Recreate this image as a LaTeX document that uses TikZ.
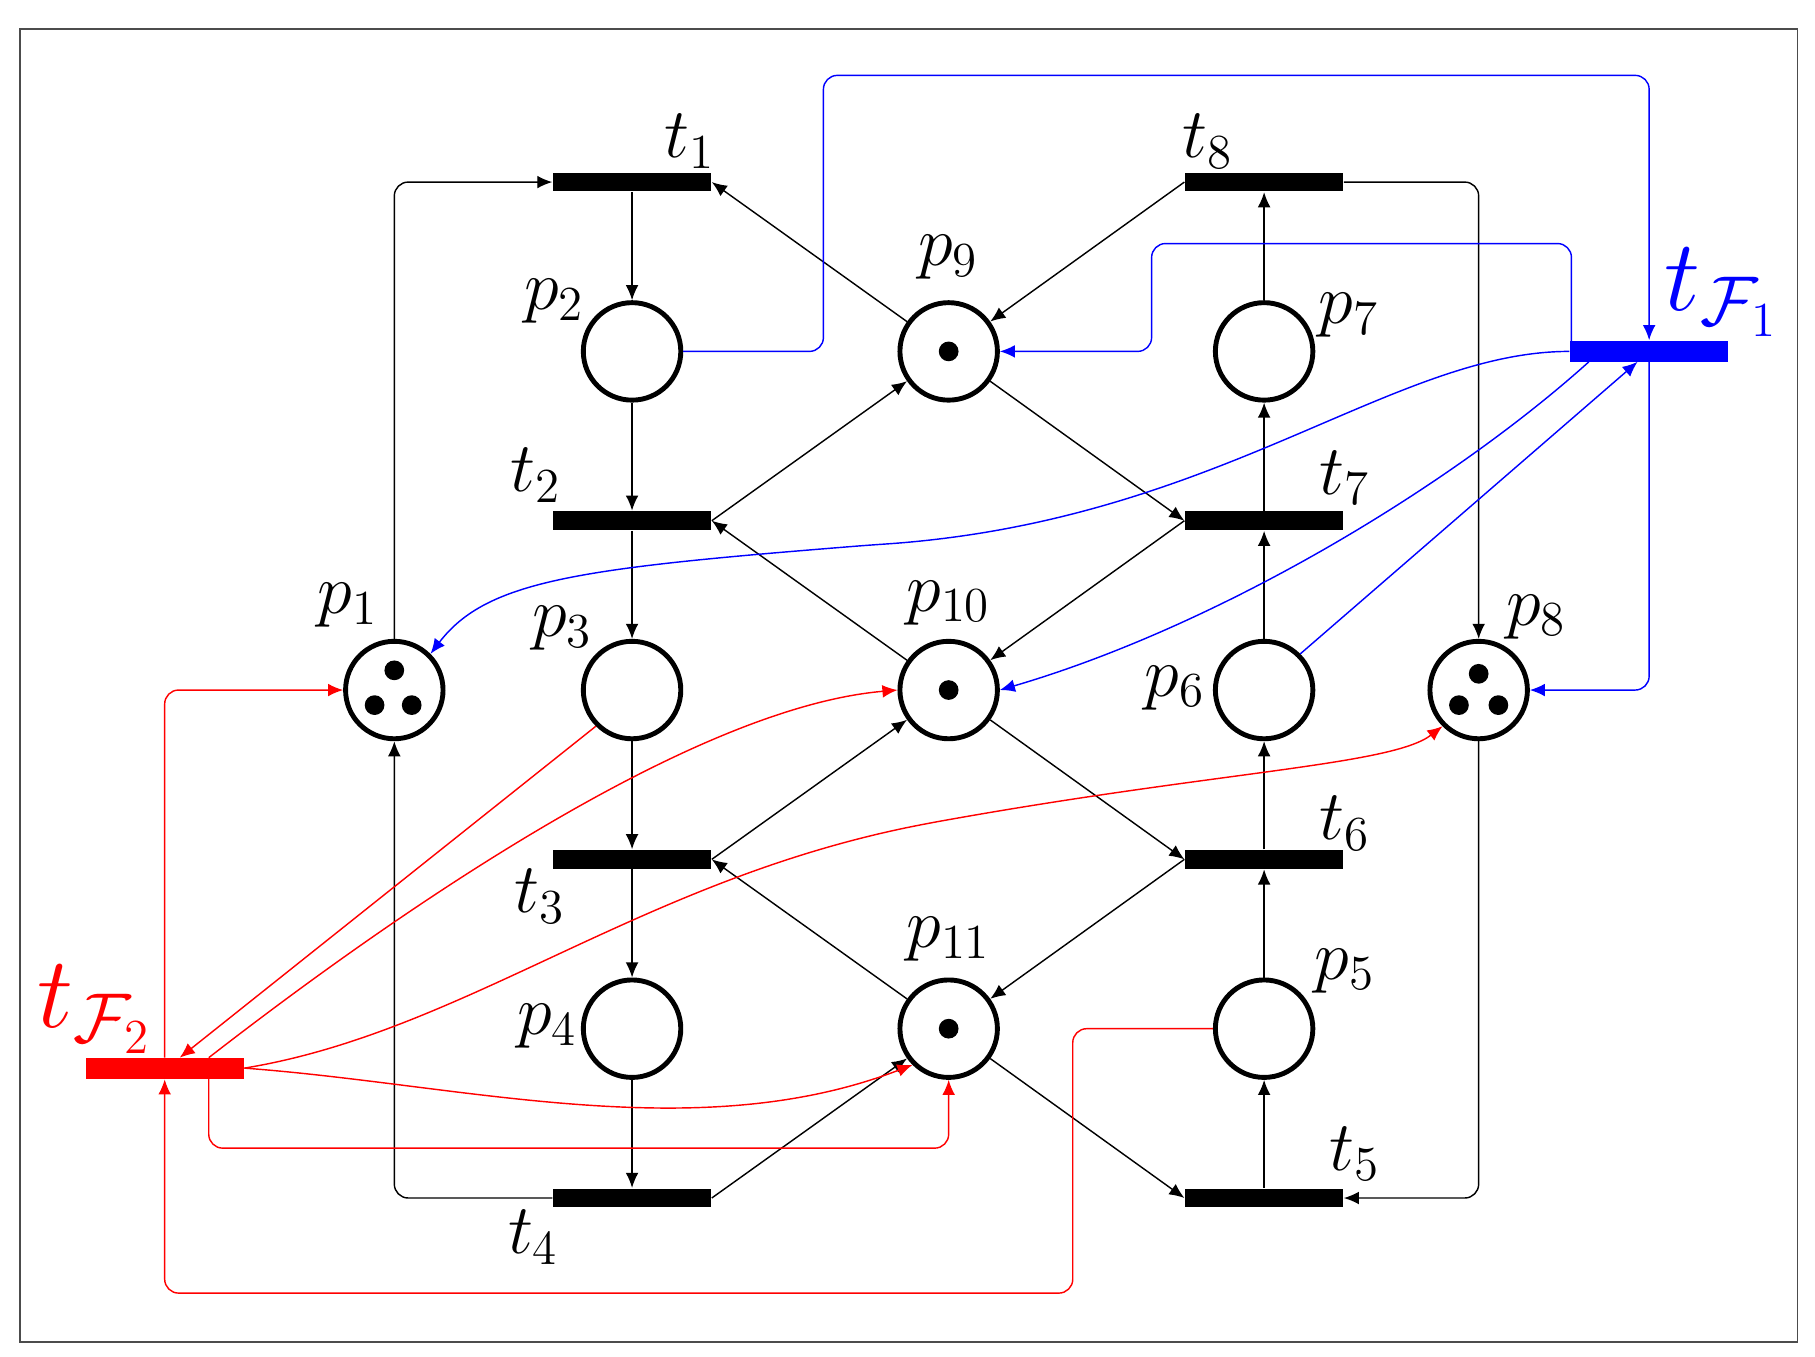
\documentclass[tikz,border=0pt]{standalone}
\usetikzlibrary{arrows.meta}
\tikzset{
  place/.style={circle,draw,line width=1.2pt,minimum size=0.84cm,inner sep=0pt},
  trans/.style={rectangle,fill=black,minimum width=1.36cm,minimum height=0.16cm,inner sep=0pt},
  tok/.style={circle,fill=black,inner sep=0pt,minimum size=0.17cm},
  lab/.style={font=\fontsize{18.5}{22}\selectfont},
  flab/.style={font=\fontsize{23}{26}\selectfont},
  arc/.style={-{Latex[length=1.3mm,width=1.1mm]},line width=0.35pt,rounded corners=0.12cm},
}
\begin{document}
\begin{tikzpicture}[x=0.01cm,y=-0.01cm]
\useasboundingbox (0,0) rectangle (1565,1170);
\draw[black!70,line width=0.4pt] (17,25) rectangle (1550,1157);
% places
\node[place] (p1) at (340,595) {};
\node[place] (p2) at (545,303) {};
\node[place] (p3) at (545,595) {};
\node[place] (p4) at (545,887) {};
\node[place] (p9) at (818,303) {};
\node[place] (p10) at (818,595) {};
\node[place] (p11) at (818,887) {};
\node[place] (p7) at (1090,303) {};
\node[place] (p6) at (1090,595) {};
\node[place] (p5) at (1090,887) {};
\node[place] (p8) at (1275,595) {};
% tokens
\node[tok] at (340,578) {}; \node[tok] at (323,608) {}; \node[tok] at (355,608) {};
\node[tok] at (1275,581) {}; \node[tok] at (1258,608) {}; \node[tok] at (1292,608) {};
\node[tok] at (818,303) {}; \node[tok] at (818,595) {}; \node[tok] at (818,887) {};
% transitions
\node[trans] (t1) at (545,157) {};
\node[trans] (t2) at (545,449) {};
\node[trans] (t3) at (545,741) {};
\node[trans] (t4) at (545,1033) {};
\node[trans] (t8) at (1090,157) {};
\node[trans] (t7) at (1090,449) {};
\node[trans] (t6) at (1090,741) {};
\node[trans] (t5) at (1090,1033) {};
\node[trans,fill=blue,minimum height=0.18cm] (tF1) at (1422,303) {};
\node[trans,fill=red,minimum height=0.18cm] (tF2) at (142,921) {};
% labels
\node[lab] at (300,522) {$p_1$};
\node[lab] at (478,260) {$p_2$};
\node[lab] at (485,542) {$p_3$};
\node[lab] at (472,885) {$p_4$};
\node[lab] at (1160,837) {$p_5$};
\node[lab] at (1013,593) {$p_6$};
\node[lab] at (1163,272) {$p_7$};
\node[lab] at (1325,532) {$p_8$};
\node[lab] at (818,222) {$p_9$};
\node[lab] at (818,520) {$p_{10}$};
\node[lab] at (818,810) {$p_{11}$};
\node[lab] at (595,122) {$t_1$};
\node[lab] at (462,410) {$t_2$};
\node[lab] at (466,773) {$t_3$};
\node[lab] at (460,1067) {$t_4$};
\node[lab] at (1168,995) {$t_5$};
\node[lab] at (1160,710) {$t_6$};
\node[lab] at (1160,412) {$t_7$};
\node[lab] at (1042,122) {$t_8$};
\node[flab,text=blue] at (1485,252) {$t_{\mathcal{F}_1}$};
\node[flab,text=red] at (82,870) {$t_{\mathcal{F}_2}$};
% black arcs
\draw[arc] (p1.north) |- (t1.west);
\draw[arc] (t4.west) -| (p1.south);
\draw[arc] (t1) -- (p2);
\draw[arc] (p2) -- (t2);
\draw[arc] (t2) -- (p3);
\draw[arc] (p3) -- (t3);
\draw[arc] (t3) -- (p4);
\draw[arc] (p4) -- (t4);
\draw[arc] (p9) -- (t1.east);
\draw[arc] (t2.east) -- (p9);
\draw[arc] (p10) -- (t2.east);
\draw[arc] (t3.east) -- (p10);
\draw[arc] (p11) -- (t3.east);
\draw[arc] (t4.east) -- (p11);
\draw[arc] (t8.west) -- (p9);
\draw[arc] (p9) -- (t7.west);
\draw[arc] (t7.west) -- (p10);
\draw[arc] (p10) -- (t6.west);
\draw[arc] (t6.west) -- (p11);
\draw[arc] (p11) -- (t5.west);
\draw[arc] (t5) -- (p5);
\draw[arc] (p5) -- (t6);
\draw[arc] (t6) -- (p6);
\draw[arc] (p6) -- (t7);
\draw[arc] (t7) -- (p7);
\draw[arc] (p7) -- (t8);
\draw[arc] (t8.east) -| (p8.north);
\draw[arc] (p8.south) |- (t5.east);
% blue arcs
\draw[arc,blue] (p2.east) -- (710,303) -- (710,65) -- (1422,65) -- (tF1.north);
\draw[arc,blue] (1355,294) -- (1355,210) -- (993,210) -- (993,303) -- (p9.east);
\draw[arc,blue] (tF1.west) .. controls (1200,303) and (1050,450) .. (750,470) .. controls (500,490) and (420,500) .. (p1.north east);
\draw[arc,blue] (1370,312) .. controls (1250,420) and (1050,540) .. (p10.east);
\draw[arc,blue] (p6.north east) -- (1412,312);
\draw[arc,blue] (1422,312) |- (p8.east);
% red arcs
\draw[arc,red] (p3.south west) -- (155,912);
\draw[arc,red] (180,912) .. controls (350,780) and (600,610) .. (p10.west);
\draw[arc,red] (tF2.east) .. controls (400,890) and (550,760) .. (800,710) .. controls (1050,665) and (1200,660) .. (p8.south west);
\draw[arc,red] (tF2.east) .. controls (400,935) and (600,990) .. (p11.south west);
\draw[arc,red] (180,930) -- (180,990) -- (818,990) -- (p11.south);
\draw[arc,red] (142,912) |- (p1.west);
\draw[arc,red] (p5.west) -- (925,887) -- (925,1115) -- (142,1115) -- (tF2.south);
\end{tikzpicture}
\end{document}
